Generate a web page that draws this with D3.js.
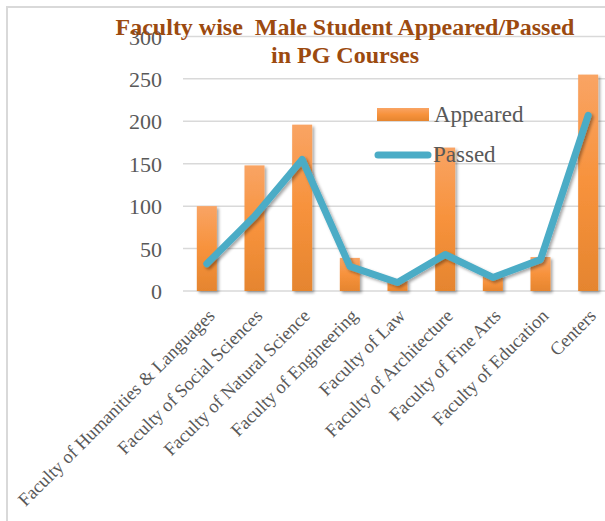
<!DOCTYPE html>
<html>
<head>
<meta charset="utf-8">
<script src="https://cdn.jsdelivr.net/npm/d3@7"></script>
<style>
  body { margin: 0; background: #fff; }
  #chart { width: 605px; height: 521px; overflow: hidden; }
  text { font-family: "Liberation Serif", "Times New Roman", serif; }
</style>
</head>
<body>
<div id="chart"></div>
<script>
// chart data
const faculties = [
    "Faculty of Humanities & Languages",
    "Faculty of Social Sciences",
    "Faculty of Natural Science",
    "Faculty of Engineering",
    "Faculty of Law",
    "Faculty of Architecture",
    "Faculty of Fine Arts",
    "Faculty of Education",
    "Centers"
];
const appeared = [100, 148, 196, 39, 12, 169, 19, 40, 255];
const passed = [32, 88, 155, 29, 10, 43, 16, 37, 207];
const yTicks = [0, 50, 100, 150, 200, 250, 300];

const width = 605, height = 521;
const plotLeft = 183, plotRight = 612, plotTop = 36.4, plotBottom = 291;
const serif = "'Liberation Serif', 'Times New Roman', serif";

const svg = d3.select("#chart")
    .append("svg")
    .attr("width", width)
    .attr("height", height);

const defs = svg.append("defs");

const barGradient = defs.append("linearGradient")
    .attr("id", "barGradient")
    .attr("x1", "0%").attr("y1", "0%")
    .attr("x2", "0%").attr("y2", "100%");
barGradient.append("stop").attr("offset", "0%").attr("stop-color", "#f9a464");
barGradient.append("stop").attr("offset", "50%").attr("stop-color", "#f7923c");
barGradient.append("stop").attr("offset", "100%").attr("stop-color", "#e5852f");

defs.append("filter")
    .attr("id", "shadow")
    .attr("x", "-20%").attr("y", "-20%")
    .attr("width", "150%").attr("height", "150%")
  .append("feDropShadow")
    .attr("dx", 2)
    .attr("dy", 2)
    .attr("stdDeviation", 1.8)
    .attr("flood-color", "#000")
    .attr("flood-opacity", 0.35);

// outer border
svg.append("rect")
    .attr("x", 7)
    .attr("y", 7)
    .attr("width", 640)
    .attr("height", 560)
    .attr("fill", "none")
    .attr("stroke", "#d9d9d9")
    .attr("stroke-width", 2);

const x = d3.scaleBand()
    .domain(faculties)
    .range([plotLeft, plotRight])
    .paddingInner(0.58)
    .paddingOuter(0.29);

const y = d3.scaleLinear()
    .domain([0, 300])
    .range([plotBottom, plotTop]);

// gridlines
svg.append("g")
    .selectAll("line")
    .data(yTicks)
    .join("line")
    .attr("x1", plotLeft)
    .attr("x2", width)
    .attr("y1", d => y(d))
    .attr("y2", d => y(d))
    .attr("stroke", "#d9d9d9")
    .attr("stroke-width", 1.5);

// y axis labels
const yAxis = svg.append("g")
    .attr("transform", `translate(${plotLeft - 21},0)`)
    .call(d3.axisLeft(y).tickValues(yTicks).tickSize(0).tickPadding(0));
yAxis.attr("font-family", serif);
yAxis.select(".domain").remove();
yAxis.selectAll("text")
    .attr("font-size", "22px")
    .attr("fill", "#595959")
    .attr("dy", "0.35em");

// bars
svg.append("g")
    .selectAll("rect")
    .data(appeared)
    .join("rect")
    .attr("x", (d, i) => x(faculties[i]))
    .attr("y", d => y(d))
    .attr("width", x.bandwidth())
    .attr("height", d => y(0) - y(d))
    .attr("fill", "url(#barGradient)")
    .attr("filter", "url(#shadow)");

// passed line
const line = d3.line()
    .x((d, i) => x(faculties[i]) + x.bandwidth() / 2)
    .y(d => y(d));

svg.append("path")
    .datum(passed)
    .attr("d", line)
    .attr("fill", "none")
    .attr("stroke", "#4bacc6")
    .attr("stroke-width", 7)
    .attr("stroke-linejoin", "round")
    .attr("stroke-linecap", "round")
    .attr("filter", "url(#shadow)");

// category labels (rotated)
svg.append("g")
    .selectAll("text")
    .data(faculties)
    .join("text")
    .attr("transform", d => `translate(${x(d) + x.bandwidth() / 2 + 9},${plotBottom + 26}) rotate(-45)`)
    .attr("text-anchor", "end")
    .attr("font-size", "18.5px")
    .attr("fill", "#595959")
    .text(d => d);

// legend
const legend = svg.append("g");
legend.append("rect")
    .attr("x", 377)
    .attr("y", 108)
    .attr("width", 52)
    .attr("height", 13)
    .attr("fill", "url(#barGradient)");
legend.append("text")
    .attr("x", 434)
    .attr("y", 121.5)
    .attr("font-size", "23px")
    .attr("fill", "#595959")
    .text("Appeared");
legend.append("line")
    .attr("x1", 378)
    .attr("x2", 428)
    .attr("y1", 155)
    .attr("y2", 155)
    .attr("stroke", "#4bacc6")
    .attr("stroke-width", 7)
    .attr("stroke-linecap", "round");
legend.append("text")
    .attr("x", 433)
    .attr("y", 161.5)
    .attr("font-size", "23px")
    .attr("fill", "#595959")
    .text("Passed");

// title
const title = svg.append("text")
    .attr("text-anchor", "middle")
    .attr("font-weight", "bold")
    .attr("font-size", "24px")
    .attr("fill", "#9c4a0f");
title.append("tspan")
    .attr("x", 345)
    .attr("y", 35)
    .style("white-space", "pre")
    .text("Faculty wise  Male Student Appeared/Passed");
title.append("tspan")
    .attr("x", 345)
    .attr("y", 63)
    .text("in PG Courses");
</script>
</body>
</html>
